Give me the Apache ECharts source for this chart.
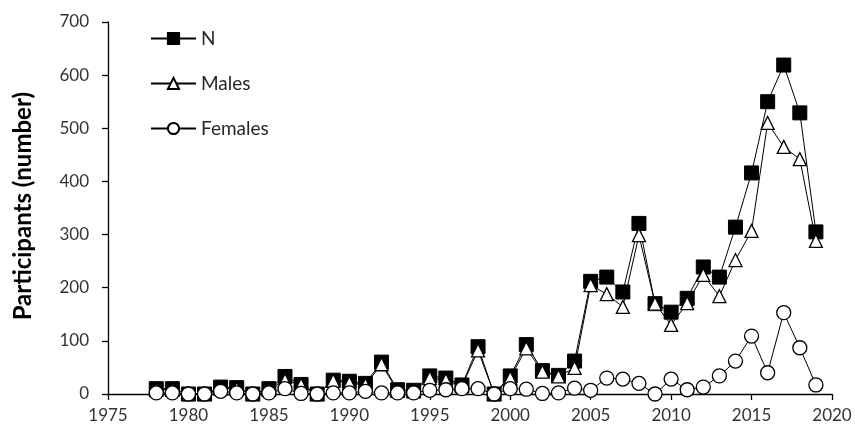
<!DOCTYPE html>
<html>
<head>
<meta charset="utf-8">
<script src="https://cdn.jsdelivr.net/npm/echarts@6/dist/echarts.min.js"></script>
<style>html,body{margin:0;padding:0;background:#fff}#c{width:855px;height:430px}</style>
</head>
<body>
<div id="c"></div>
<script>
var years = [1978,1979,1980,1981,1982,1983,1984,1985,1986,1987,1988,1989,1990,1991,1992,1993,1994,1995,1996,1997,1998,1999,2000,2001,2002,2003,2004,2005,2006,2007,2008,2009,2010,2011,2012,2013,2014,2015,2016,2017,2018,2019];
var nValues = [10,10,0,0,13,12,0,10,33,18,0,26,24,20,60,8,7,34,30,17,89,0,34,93,44,35,62,212,220,192,321,170,154,180,239,220,314,416,550,619,529,305];
var maleValues = [8,8,0,0,10,10,0,8,26,17,0,25,21,17,56,6,5,30,26,15,82,0,30,86,42,33,49,205,188,164,299,170,130,171,224,184,252,307,510,465,442,288];
var femaleValues = [2,2,0,0,5,2,0,2,10,1,0,2,2,5,2,2,2,7,8,10,10,0,10,9,1,2,11,7,30,28,20,0,28,8,13,34,62,109,40,153,87,17];
var xTicks = {min:1975, max:2020, interval:5};
var yTicks = {min:0, max:700, interval:100};
var yTitle = 'Participants (number)';

function pairs(v){ return years.map(function(y,i){ return [y, v[i]]; }); }

var font = 'Lato, "Liberation Sans", sans-serif';
var chart = echarts.init(document.getElementById('c'), null, {renderer:'canvas'});
chart.setOption({
  animation:false,
  backgroundColor:'#fff',
  grid:{left:108, right:23, top:22, bottom:36, containLabel:false},
  legend:{
    orient:'vertical', left:145, top:24, itemWidth:45, itemHeight:14, itemGap:26,
    textStyle:{fontFamily:font, fontSize:19, color:'#262626', padding:[0,0,0,0]},
    data:['N','Males','Females']
  },
  graphic:[{
    type:'text', left:11, top:92, rotation:Math.PI/2,
    style:{text:yTitle, font:'bold 24px ' + font, fill:'#000'}
  }],
  xAxis:{
    type:'value', min:xTicks.min, max:xTicks.max, interval:xTicks.interval,
    axisLine:{lineStyle:{color:'#000', width:1.3}},
    axisTick:{show:true, inside:false, length:6, lineStyle:{color:'#000', width:1.3}},
    axisLabel:{fontFamily:font, fontSize:17, color:'#333', margin:13, formatter:function(v){return String(v);}},
    splitLine:{show:false}
  },
  yAxis:{
    type:'value', min:yTicks.min, max:yTicks.max, interval:yTicks.interval,
    axisLine:{show:true, lineStyle:{color:'#000', width:1.3}},
    axisTick:{show:true, inside:false, length:6, lineStyle:{color:'#000', width:1.3}},
    axisLabel:{fontFamily:font, fontSize:17, color:'#333', margin:19},
    splitLine:{show:false}
  },
  series:[
    {name:'N', type:'line', data:pairs(nValues), symbol:'rect', symbolSize:14,
     lineStyle:{color:'#000', width:1}, itemStyle:{color:'#000', borderColor:'#000', borderWidth:1}, z:2},
    {name:'Males', type:'line', data:pairs(maleValues), symbol:'triangle', symbolSize:13,
     lineStyle:{color:'#000', width:1}, itemStyle:{color:'#fff', borderColor:'#000', borderWidth:1.3}, z:3},
    {name:'Females', type:'line', data:pairs(femaleValues), symbol:'circle', symbolSize:14,
     lineStyle:{color:'#000', width:1}, itemStyle:{color:'#fff', borderColor:'#000', borderWidth:1.3}, z:4}
  ]
});
</script>
</body>
</html>
